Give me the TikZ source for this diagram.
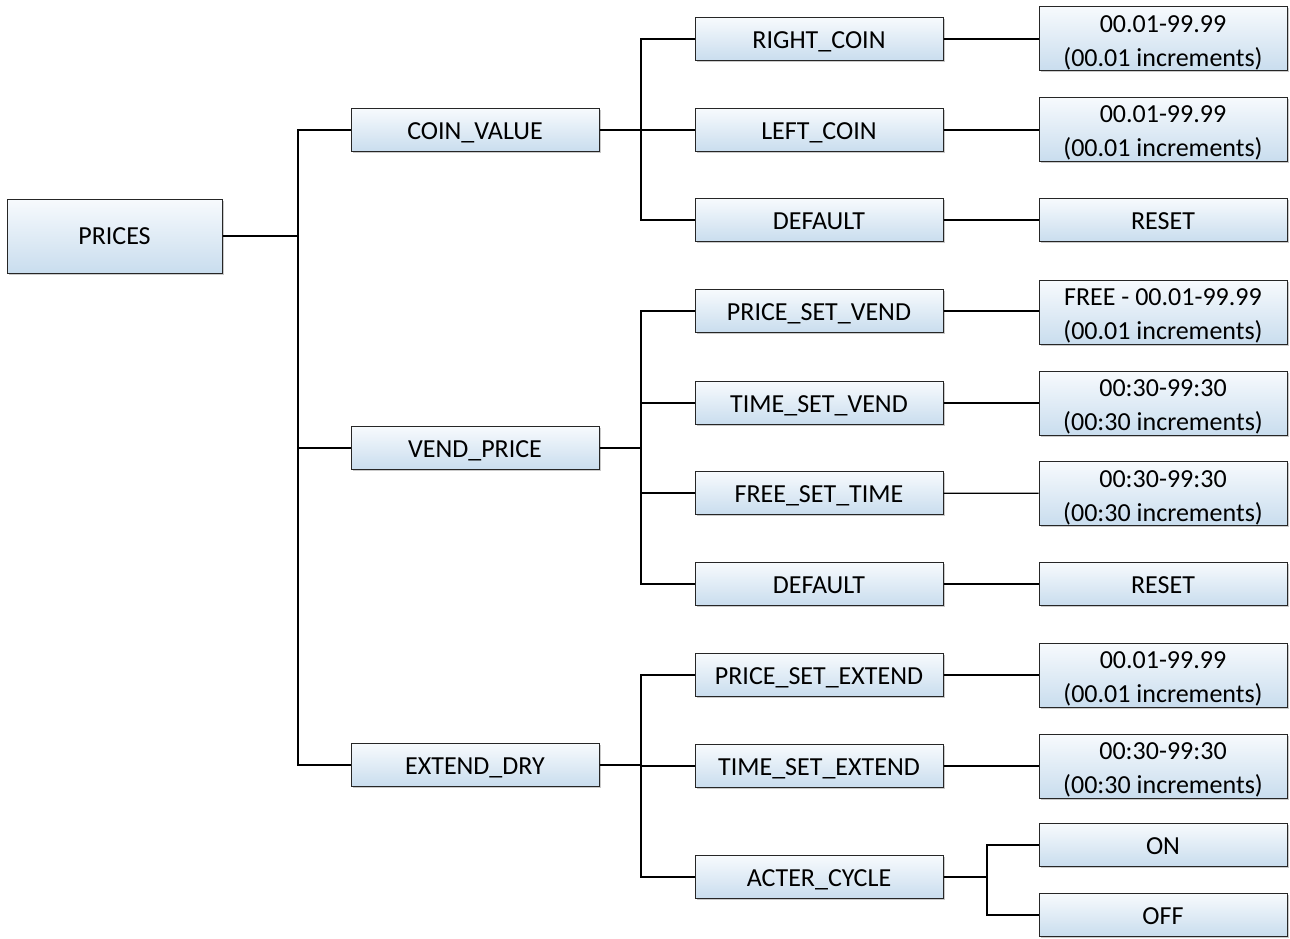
\documentclass[tikz,border=0pt]{standalone}
\usepackage{fontspec}
\setmainfont{Carlito}
\usetikzlibrary{shadows}
\definecolor{boxtop}{HTML}{F7FAFD}
\definecolor{boxbot}{HTML}{C9DDEE}
\newcommand\onebox[4]{%
  \node[box] (#1) at (#2,#3) {};
  \node[lbl] (#1-t) at (#2,#3+9.5) {#4};}
\newcommand\twobox[5]{%
  \node[box, tall] (#1) at (#2,#3) {};
  \node[lbl] (#1-a) at (#2,#3-6.2) {#4};
  \node[lbl] (#1-b) at (#2,#3+27.5) {#5};}
\begin{document}
\begin{tikzpicture}[x=1pt,y=-1pt,
  box/.style={draw=black!85, line width=1pt, top color=boxtop, bottom color=boxbot,
    minimum width=248pt, minimum height=43pt, inner sep=0pt,
    drop shadow={shadow xshift=1.5pt, shadow yshift=-1.5pt, fill=black!35, opacity=0.6}},
  tall/.style={minimum height=64pt},
  lbl/.style={anchor=base, inner sep=0pt, font=\fontsize{26}{32}\selectfont},
  conn/.style={draw=black, line width=1.2pt}]
\useasboundingbox (0,0) rectangle (1290,938);
% level 1
\node[box, minimum width=215pt, minimum height=74pt] (prices) at (114.5,236) {};
\node[lbl] (prices-t) at (114.5,244.5) {PRICES};
% level 2
\onebox{coin}{475}{130}{COIN\_VALUE}
\onebox{vend}{475}{448}{VEND\_PRICE}
\onebox{ext}{475}{765}{EXTEND\_DRY}
% level 3
\onebox{rc}{819}{39}{RIGHT\_COIN}
\onebox{lc}{819}{130}{LEFT\_COIN}
\onebox{d1}{819}{220}{DEFAULT}
\onebox{psv}{819}{311}{PRICE\_SET\_VEND}
\onebox{tsv}{819}{403}{TIME\_SET\_VEND}
\onebox{fst}{819}{493}{FREE\_SET\_TIME}
\onebox{d2}{819}{584}{DEFAULT}
\onebox{pse}{819}{675}{PRICE\_SET\_EXTEND}
\onebox{tse}{819}{766}{TIME\_SET\_EXTEND}
\onebox{ac}{819}{877}{ACTER\_CYCLE}
% level 4
\twobox{rcv}{1163}{38.5}{00.01-99.99}{(00.01 increments)}
\twobox{lcv}{1163}{129}{00.01-99.99}{(00.01 increments)}
\onebox{r1}{1163}{220}{RESET}
\twobox{psvv}{1163}{312}{FREE - 00.01-99.99}{(00.01 increments)}
\twobox{tsvv}{1163}{403}{00:30-99:30}{(00:30 increments)}
\twobox{fstv}{1163}{493.5}{00:30-99:30}{(00:30 increments)}
\onebox{r2}{1163}{584}{RESET}
\twobox{psev}{1163}{675}{00.01-99.99}{(00.01 increments)}
\twobox{tsev}{1163}{766}{00:30-99:30}{(00:30 increments)}
\onebox{on}{1163}{845}{ON}
\onebox{off}{1163}{915}{OFF}
% connectors
\coordinate (j1) at (298,236);
\draw[conn] (prices.east) -- (j1);
\draw[conn] (coin.west) -| (j1);
\draw[conn] (vend.west) -| (j1);
\draw[conn] (ext.west) -| (j1);
\coordinate (j2) at (641,130);
\draw[conn] (coin.east) -- (j2);
\draw[conn] (rc.west) -| (j2);
\draw[conn] (lc.west) -- (j2);
\draw[conn] (d1.west) -| (j2);
\coordinate (j3) at (641,448);
\draw[conn] (vend.east) -- (j3);
\draw[conn] (psv.west) -| (j3);
\draw[conn] (tsv.west) -| (j3);
\draw[conn] (fst.west) -| (j3);
\draw[conn] (d2.west) -| (j3);
\coordinate (j4) at (641,765);
\draw[conn] (ext.east) -- (j4);
\draw[conn] (pse.west) -| (j4);
\draw[conn] (tse.west) -| (j4);
\draw[conn] (ac.west) -| (j4);
\draw[conn] (rc.east) -- (rc.east -| rcv.west);
\draw[conn] (lc.east) -- (lc.east -| lcv.west);
\draw[conn] (d1) -- (r1);
\draw[conn] (psv.east) -- (psv.east -| psvv.west);
\draw[conn] (tsv) -- (tsvv);
\draw[conn] (fst) -- (fstv);
\draw[conn] (d2) -- (r2);
\draw[conn] (pse) -- (psev);
\draw[conn] (tse) -- (tsev);
\coordinate (j5) at (987,877);
\draw[conn] (ac.east) -- (j5);
\draw[conn] (on.west) -| (j5);
\draw[conn] (off.west) -| (j5);
\end{tikzpicture}
\end{document}
